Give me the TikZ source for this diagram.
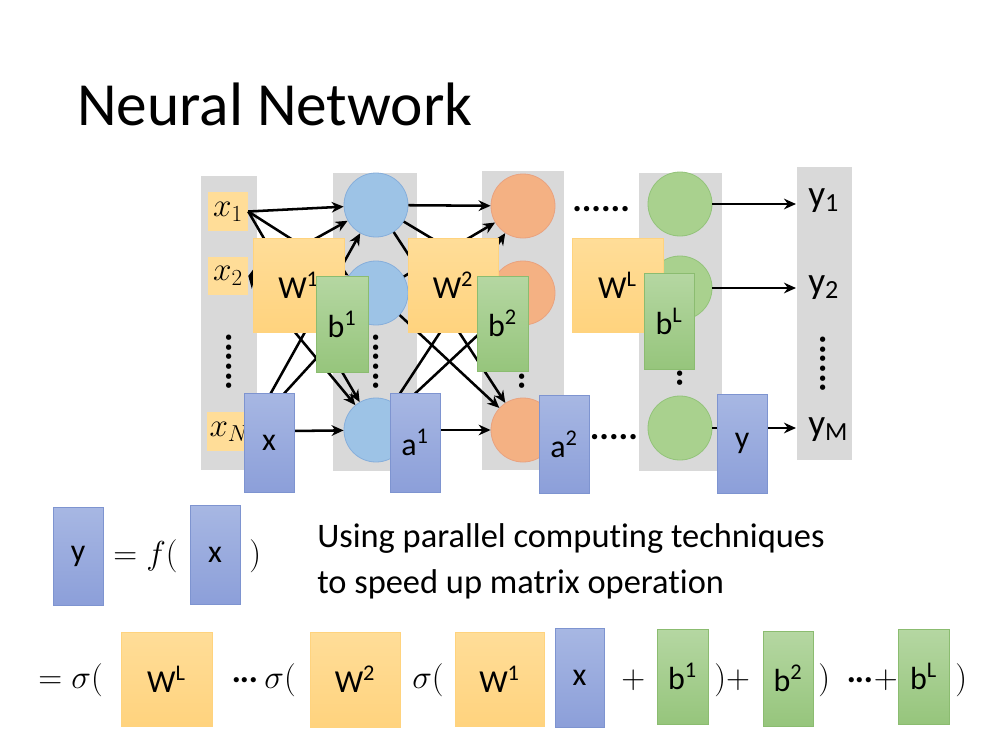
\documentclass[tikz,border=0pt]{standalone}
\usepackage[no-math]{fontspec}
\setmainfont[Ligatures=NoCommon]{Carlito}
\usetikzlibrary{arrows.meta}
\definecolor{colgray}{HTML}{D9D9D9}
\definecolor{wtop}{HTML}{FFDD98}
\definecolor{wbot}{HTML}{FFD37E}
\definecolor{btop}{HTML}{A7B7E3}
\definecolor{bbot}{HTML}{8C9FD9}
\definecolor{bdraw}{HTML}{7E94D0}
\definecolor{gtop}{HTML}{B5D7A2}
\definecolor{gbot}{HTML}{96C57C}
\definecolor{gdraw}{HTML}{8BBC70}
\definecolor{cblue}{HTML}{9DC3E6}
\definecolor{cbluedraw}{HTML}{86AEDB}
\definecolor{corange}{HTML}{F4B183}
\definecolor{corangedraw}{HTML}{E9A27F}
\definecolor{cgreen}{HTML}{A9D18E}
\definecolor{cgreendraw}{HTML}{93C37A}
\newcommand{\tdots}{\mbox{\boldmath$\mathord{\cdot}\mkern-1mu\mathord{\cdot}\mkern-1mu\mathord{\cdot}$}}
\begin{document}
\begin{tikzpicture}[x=0.75pt,y=-0.75pt,
  sz/.style 2 args={minimum width=#1*0.75pt, minimum height=#2*0.75pt, inner sep=0pt},
  colbox/.style={fill=colgray, draw=none},
  wbox/.style={top color=wtop, bottom color=wbot, draw=wbot, font=\fontsize{24}{28}\selectfont},
  inbox/.style={fill=wtop, draw=none, font=\fontsize{24}{28}\selectfont},
  bluebox/.style={top color=btop, bottom color=bbot, draw=bdraw, font=\fontsize{24}{28}\selectfont},
  greenbox/.style={top color=gtop, bottom color=gbot, draw=gdraw, font=\fontsize{24}{28}\selectfont},
  neuron/.style={circle, minimum size=64*0.75pt, inner sep=0pt, line width=0.6pt},
  nblue/.style={neuron, fill=cblue, draw=cbluedraw},
  norange/.style={neuron, fill=corange, draw=corangedraw},
  ngreen/.style={neuron, fill=cgreen, draw=cgreendraw},
  arr/.style={line width=1.9pt, -{Stealth[length=9pt,width=8pt]}},
  biarr/.style={line width=1.9pt, {Stealth[length=9pt,width=8pt]}-{Stealth[length=9pt,width=8pt]}},
  dotsh/.style={anchor=base west, inner sep=0pt, font=\fontsize{27}{30}\bfseries\selectfont},
  dotsv/.style={dotsh, rotate=90},
  outlab/.style={anchor=base west, inner sep=0pt, inner xsep=9pt, font=\fontsize{28}{32}\selectfont},
  txt/.style={anchor=base west, inner sep=0pt, font=\fontsize{25.8}{32}\selectfont},
  mth/.style={anchor=west, inner sep=0pt, font=\fontsize{23}{28}\selectfont}
]
\useasboundingbox (0,0) rectangle (1008,754);

% title
\node[anchor=base west, inner sep=0pt, font=\fontsize{46}{56}\selectfont] (title) at (77,125) {Neural Network};

% gray columns
\node[colbox, sz={56}{294}] (colin) at (229,323) {};
\node[colbox, sz={84}{298}] (col1) at (375,322) {};
\node[colbox, sz={82}{299}] (col2) at (523,320.5) {};
\node[colbox, sz={83}{298}] (colL) at (680.5,322) {};
\node[colbox, sz={55}{293}] (colout) at (824.5,313.5) {};

% neuron positions
\coordinate (p11) at (376,205); \coordinate (p12) at (376,293); \coordinate (p13) at (376,430);
\coordinate (p21) at (523,206); \coordinate (p22) at (523,293); \coordinate (p23) at (523,430);
\coordinate (pL1) at (680,204); \coordinate (pL2) at (680,288); \coordinate (pL3) at (680,428);

% input boxes
\node[inbox, sz={40}{39}] (x1) at (228,211.5) {$x_1$};
\node[inbox, sz={40}{38}] (x2) at (228,276) {$x_2$};
\node[inbox, sz={40}{39}] (xN) at (228,431.5) {\hspace*{2pt}$x_N$};

% neurons
\node[nblue] (c11) at (p11) {}; \node[nblue] (c12) at (p12) {}; \node[nblue] (c13) at (p13) {};
\node[norange] (c21) at (p21) {}; \node[norange] (c22) at (p22) {}; \node[norange] (c23) at (p23) {};
\node[ngreen] (cL1) at (pL1) {}; \node[ngreen] (cL2) at (pL2) {}; \node[ngreen] (cL3) at (pL3) {};

% output labels
\node[outlab] (yo1) at (796,206) {y\textsubscript{1}};
\node[outlab] (yo2) at (796,293) {y\textsubscript{2}};
\node[outlab] (yoM) at (796,435) {y\textsubscript{M}};

% connections
\foreach \s in {x1,xN} \foreach \t in {c11,c12,c13} \draw[arr] (\s.east) -- (\t);
\foreach \t in {c11,c12,c13} \draw[biarr] (x2.east) -- (\t);
\foreach \s in {c11,c12,c13} \foreach \t in {c21,c22,c23} \draw[arr] (\s) -- (\t);
\draw[arr] (cL1) -- (cL1 -| yo1.west);
\draw[arr] (cL2) -- (cL2 -| yo2.west);
\draw[arr] (cL3) -- (cL3 -| yoM.west);

% dots
\node[dotsv] (vin) at (231,391) {......};
\node[dotsv] (v1) at (378,391) {......};
\node[dotsv] (v2) at (524,391) {......};
\node[dotsv] (vL) at (682,388) {......};
\node[dotsv] (vout) at (825,393) {......};
\node[dotsh] (htop) at (572,211) {......};
\node[dotsh] (hbot) at (580,439) {......};

% overlay boxes
\node[wbox, sz={91}{94}] (W1) at (298.5,285) {W\textsuperscript{1}};
\node[greenbox, sz={52}{96}] (b1) at (342,324) {b\textsuperscript{1}};
\node[bluebox, sz={50}{99}] (xb) at (269,442.5) {x};
\node[bluebox, sz={50}{99}] (a1) at (415,442.5) {a\textsuperscript{1}};
\node[wbox, sz={90}{94}] (W2) at (453,285) {W\textsuperscript{2}};
\node[greenbox, sz={51}{95}] (b2) at (502.5,323.5) {b\textsuperscript{2}};
\node[bluebox, sz={50}{98}] (a2) at (564,444) {a\textsuperscript{2}};
\node[wbox, sz={91}{94}] (WL) at (617.5,285) {W\textsuperscript{L}};
\node[greenbox, sz={50}{96}] (bL) at (669,321) {b\textsuperscript{L}};
\node[bluebox, sz={50}{99}] (yb) at (742,443.5) {y};

% first equation
\node[bluebox, sz={50}{98}] (eqy) at (78,556) {y};
\node[mth] (eqf) at (113,556) {$=f($};
\node[bluebox, sz={50}{99}] (eqx) at (215,554.5) {x};
\node[mth] (eqc1) at (249,556) {$)$};

\node[txt] (t1) at (317,547) {Using parallel computing techniques};
\node[txt] (t2) at (317,593) {to speed up matrix operation};

% second equation
\node[mth] (e1) at (38,680) {$=\sigma($};
\node[wbox, sz={91}{94}] (eWL) at (166.5,679) {W\textsuperscript{L}};
\node[mth] (e2) at (231,680) {$\tdots\,\sigma($};
\node[wbox, sz={90}{95}] (eW2) at (355,679.5) {W\textsuperscript{2}};
\node[mth] (e3) at (412,680) {$\sigma($};
\node[wbox, sz={89}{94}] (eW1) at (499.5,679) {W\textsuperscript{1}};
\node[bluebox, sz={49}{99}] (ex) at (579.5,677.5) {x};
\node[mth] (e4) at (621,680) {$+$};
\node[greenbox, sz={51}{95}] (eb1) at (682.5,676.5) {b\textsuperscript{1}};
\node[mth] (e5) at (714,680) {$){+}$};
\node[greenbox, sz={50}{95}] (eb2) at (788,678.5) {b\textsuperscript{2}};
\node[mth] (e6) at (818,680) {$)$};
\node[mth] (e7) at (846,680) {$\tdots{+}$};
\node[greenbox, sz={51}{95}] (ebL) at (923.5,676.5) {b\textsuperscript{L}};
\node[mth] (e8) at (955,680) {$)$};
\end{tikzpicture}
\end{document}
